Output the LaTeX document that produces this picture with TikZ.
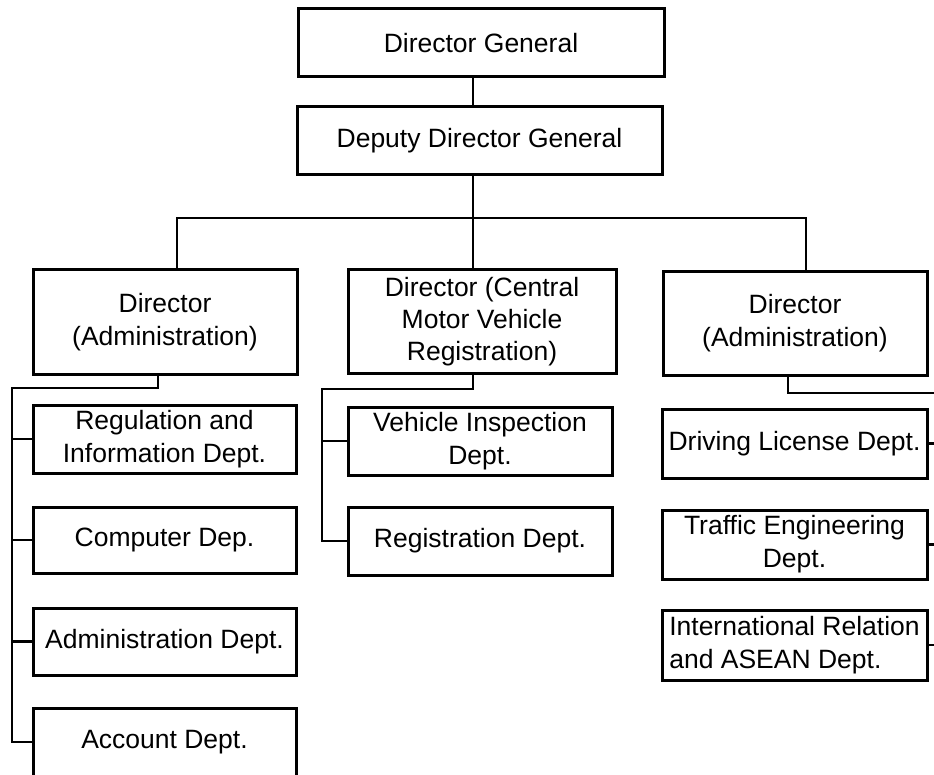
\documentclass[tikz,border=0pt]{standalone}
\usepackage{fontspec}
\setmainfont{Liberation Sans}
\begin{document}
\begin{tikzpicture}[x=1pt,y=-1pt,
  box/.style={draw, line width=3pt, inner sep=0pt, align=center,
    font=\fontsize{26.5}{33}\selectfont},
  link/.style={line width=2.4pt}]
\useasboundingbox (0,0) rectangle (934,775);
\clip (0,0) rectangle (934,775);

% top of the hierarchy
\node[box, minimum width=366pt, minimum height=68pt] (dg) at (481,43) {Director General};
\node[box, minimum width=365pt, minimum height=68pt] (ddg) at (479.5,141) {Deputy Director General};

% directors
\node[box, minimum width=264pt, minimum height=105pt] (dirA) at (165,322) {Director\\(Administration)};
\node[box, minimum width=268pt, minimum height=103pt, font=\fontsize{26.5}{32}\selectfont] (dirC) at (482,321.5) {Director (Central\\Motor Vehicle\\Registration)};
\node[box, minimum width=264pt, minimum height=103pt] (dirB) at (795,323.5) {Director\\(Administration)};

% departments under the left director
\node[box, minimum width=263pt, minimum height=68pt] (reg) at (164.5,439) {Regulation and\\Information Dept.};
\node[box, minimum width=263pt, minimum height=66pt] (comp) at (164.5,540) {Computer Dep.};
\node[box, minimum width=263pt, minimum height=67pt] (adm) at (164.5,641.5) {Administration Dept.};
\node[box, minimum width=263pt, minimum height=68pt] (acc) at (164.5,742) {Account Dept.};

% departments under the central director
\node[box, minimum width=264pt, minimum height=68pt] (veh) at (480,441) {Vehicle Inspection\\Dept.};
\node[box, minimum width=264pt, minimum height=68pt] (regis) at (480,541) {Registration Dept.};

% departments under the right director
\node[box, minimum width=265pt, minimum height=69pt] (drv) at (794.5,443.5) {Driving License Dept.};
\node[box, minimum width=265pt, minimum height=69pt] (trf) at (794.5,544.5) {Traffic Engineering\\Dept.};
\node[box, minimum width=265pt, minimum height=70pt, align=left] (intl) at (794.5,645) {International Relation\\and ASEAN Dept.};

% routing points
\coordinate (spine) at (473,218);
\coordinate (barL) at (177,218);
\coordinate (barR) at (806,218);
\coordinate (lDrop) at (158,388);
\coordinate (lRail) at (12,388);
\coordinate (cDrop) at (473,389);
\coordinate (cRail) at (322,389);
\coordinate (rDrop) at (788,393);
\coordinate (rEnd) at (945,393);
\coordinate (rRail) at (945,0);

% main spine and the bar to the directors
\draw[link] (dg.south -| spine) -- (ddg.north -| spine);
\draw[link] (ddg.south -| spine) -- (dirC.north -| spine);
\draw[link] (dirA.north -| barL) -- (barL) -- (barR) -- (dirB.north -| barR);

% left branch
\draw[link] (dirA.south -| lDrop) -- (lDrop) -- (lRail) |- (acc.west);
\draw[link] (lRail |- reg.west) -- (reg.west);
\draw[link] (lRail |- comp.west) -- (comp.west);
\draw[link] (lRail |- adm.west) -- (adm.west);

% central branch
\draw[link] (dirC.south -| cDrop) -- (cDrop) -- (cRail) |- (regis.west);
\draw[link] (cRail |- veh.west) -- (veh.west);

% right branch, running out past the right edge
\draw[link] (dirB.south -| rDrop) -- (rDrop) -- (rEnd);
\draw[link] (drv.east) -- (drv.east -| rRail);
\draw[link] (trf.east) -- (trf.east -| rRail);
\draw[link] (intl.east) -- (intl.east -| rRail);
\end{tikzpicture}
\end{document}
